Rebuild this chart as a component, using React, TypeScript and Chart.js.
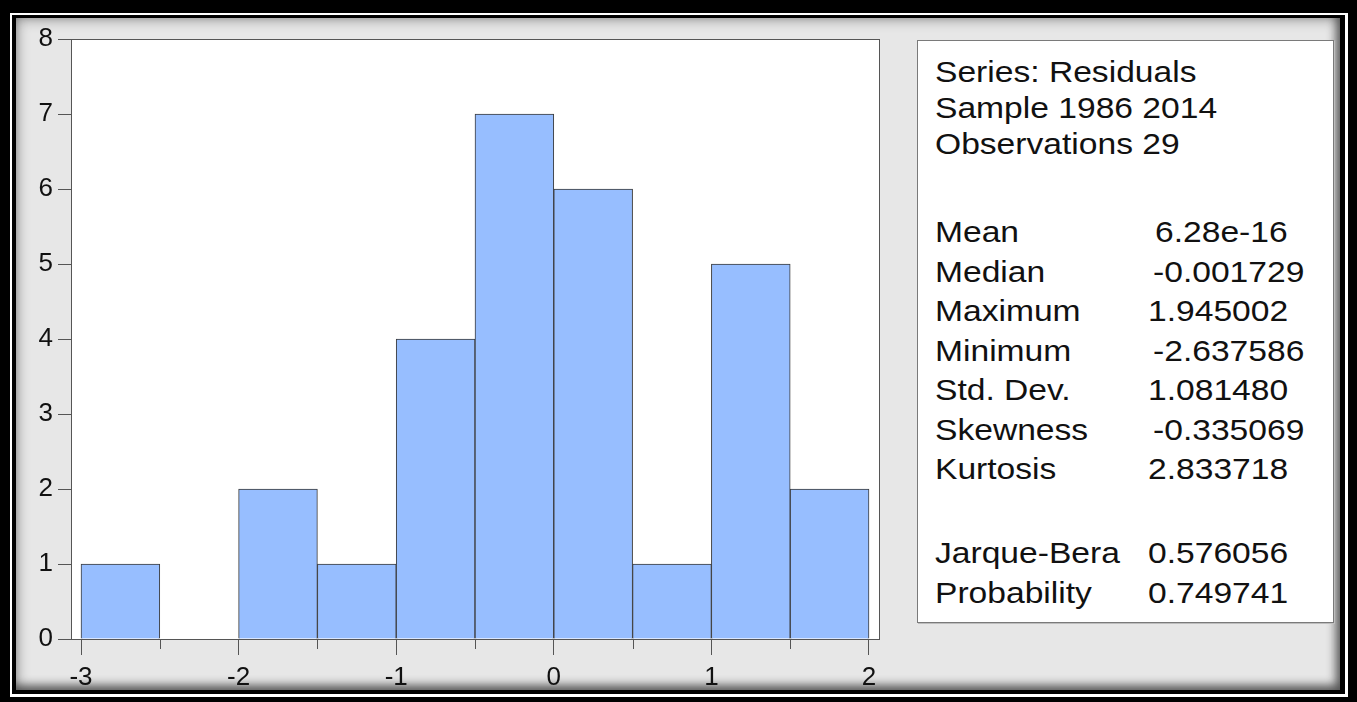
import React, { useEffect, useRef } from "react";
import { Chart, registerables } from "chart.js";

Chart.register(...registerables);

// ---- data ----
const binCenters = [-2.75, -2.25, -1.75, -1.25, -0.75, -0.25, 0.25, 0.75, 1.25, 1.75];
const binCounts = [1, 0, 2, 1, 4, 7, 6, 1, 5, 2];
const xMajorTicks = [-3, -2, -1, 0, 1, 2];
const xMinorTicks = [-2.5, -1.5, -0.5, 0.5, 1.5];
const yTicks = [0, 1, 2, 3, 4, 5, 6, 7, 8];
const headerLines = ["Series: Residuals", "Sample 1986 2014", "Observations 29"];
const statLabels = ["Mean", "Median", "Maximum", "Minimum", "Std. Dev.", "Skewness", "Kurtosis", "Jarque-Bera", "Probability"];
const statValues = ["6.28e-16", "-0.001729", "1.945002", "-2.637586", "1.081480", "-0.335069", "2.833718", "0.576056", "0.749741"];

// ---- layout ----
const headerY = [72, 108, 144];
const statY = [232, 271.5, 311, 350.5, 390, 429.5, 469, 553, 592.5];
const FONT = "'Liberation Sans', Arial, Helvetica, sans-serif";

function valueLeft(v: string) {
  if (v.startsWith("-")) return 1153;
  if (v.includes("e")) return 1155;
  return 1148;
}

export default function App() {
  const ref = useRef<HTMLCanvasElement>(null);

  useEffect(() => {
    const canvas = ref.current!;
    const plotFrame = {
      id: "plotFrame",
      beforeDraw(chart: any) {
        const { ctx, chartArea: a } = chart;
        ctx.save();
        ctx.fillStyle = "#ffffff";
        ctx.fillRect(a.left, a.top, a.right - a.left, a.bottom - a.top);
        ctx.restore();
      },
      afterDraw(chart: any) {
        const { ctx, chartArea: a, scales } = chart;
        ctx.save();
        ctx.strokeStyle = "#555555";
        ctx.lineWidth = 1;
        ctx.strokeRect(
          Math.round(a.left) + 0.5,
          Math.round(a.top) + 0.5,
          Math.round(a.right - a.left),
          Math.round(a.bottom - a.top)
        );
        const xs = scales.x;
        ctx.beginPath();
        xMinorTicks.forEach((v) => {
          const px = Math.round(xs.getPixelForValue(v)) + 0.5;
          ctx.moveTo(px, a.bottom);
          ctx.lineTo(px, a.bottom + 10);
        });
        ctx.stroke();
        ctx.restore();
      },
    };

    const chart = new Chart(canvas, {
      type: "bar",
      data: {
        datasets: [
          {
            data: binCounts.map((c, i) => ({ x: binCenters[i], y: c })),
            backgroundColor: "#97BEFF",
            borderColor: "#3a3a3a",
            borderWidth: 1,
            barPercentage: 1,
            categoryPercentage: 1,
          },
        ],
      },
      options: {
        animation: false,
        responsive: false,
        events: [],
        layout: { padding: { left: 0, top: 39, right: 21, bottom: 0 } },
        plugins: { legend: { display: false }, tooltip: { enabled: false } },
        scales: {
          x: {
            type: "linear",
            offset: false,
            min: -3.0635,
            max: 2.0635,
            afterFit: (s: any) => {
              s.height = 63;
            },
            afterBuildTicks: (s: any) => {
              s.ticks = xMajorTicks.map((v) => ({ value: v }));
            },
            grid: { drawOnChartArea: false, offset: false, tickLength: 16, color: "#555555", lineWidth: 1 },
            border: { display: true, color: "#555555" },
            ticks: {
              color: "#111111",
              padding: 7,
              maxRotation: 0,
              autoSkip: false,
              font: { family: FONT, size: 26 },
              callback: (v: any) => String(v),
            },
          },
          y: {
            type: "linear",
            min: 0,
            max: 8,
            afterFit: (s: any) => {
              s.width = 71;
            },
            afterBuildTicks: (s: any) => {
              s.ticks = yTicks.map((v) => ({ value: v }));
            },
            grid: { drawOnChartArea: false, tickLength: 13, color: "#555555", lineWidth: 1 },
            border: { display: true, color: "#555555" },
            ticks: {
              color: "#111111",
              padding: 5,
              autoSkip: false,
              font: { family: FONT, size: 26 },
              callback: (v: any) => String(v),
            },
          },
        },
      },
      plugins: [plotFrame],
    } as any);

    return () => chart.destroy();
  }, []);

  const textStyle = (left: number, cy: number): React.CSSProperties => ({
    position: "absolute",
    left,
    top: cy - 17,
    height: 34,
    lineHeight: "34px",
    fontFamily: FONT,
    fontSize: 30,
    color: "#111",
    whiteSpace: "nowrap",
    transform: "scaleX(1.12)",
    transformOrigin: "left center",
  });

  return (
    <div style={{ position: "absolute", left: 0, top: 0, width: 1357, height: 702, background: "#000", overflow: "hidden" }}>
      <div style={{ position: "absolute", left: 10, top: 13, width: 1338, height: 684, background: "#fff" }} />
      <div style={{ position: "absolute", left: 12, top: 15, width: 1333, height: 679, background: "#000" }} />
      <div
        style={{
          position: "absolute",
          left: 16,
          top: 18,
          width: 1324,
          height: 672,
          background: "#e7e7e7",
          boxShadow: "inset 0 0 14px rgba(0,0,0,0.45), inset -4px -5px 9px rgba(0,0,0,0.45)",
        }}
      />
      <canvas
        ref={ref}
        width={900}
        height={702}
        style={{ position: "absolute", left: 0, top: 0, width: 900, height: 702 }}
      />
      <div
        style={{
          position: "absolute",
          left: 917,
          top: 40,
          width: 415,
          height: 581,
          background: "#fff",
          border: "1px solid #7a7a7a",
          boxShadow: "1px 1px 0 #bdbdbd",
        }}
      />
      {headerLines.map((t, i) => (
        <div key={"h" + i} style={textStyle(935, headerY[i])}>
          {t}
        </div>
      ))}
      {statLabels.map((t, i) => (
        <div key={"l" + i} style={textStyle(935, statY[i])}>
          {t}
        </div>
      ))}
      {statValues.map((t, i) => (
        <div key={"v" + i} style={textStyle(valueLeft(t), statY[i])}>
          {t}
        </div>
      ))}
    </div>
  );
}
